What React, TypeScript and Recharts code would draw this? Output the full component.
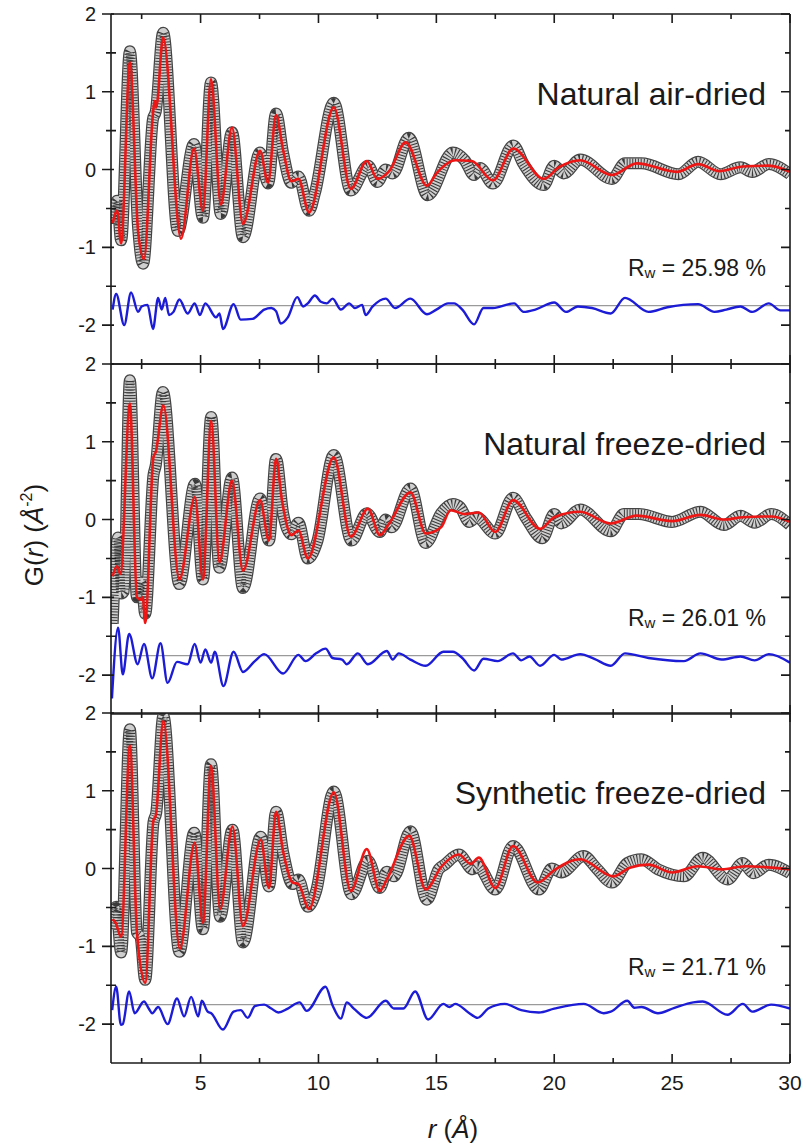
import React from "react";
import { LineChart, Line, XAxis, YAxis, ReferenceLine } from "recharts";

type Pt = [number, number];

const rDomain: [number, number] = [1.2, 30];
const gDomain: [number, number] = [-2.5, 2];
const rMajor = [5, 10, 15, 20, 25, 30];
const rMinor = [2.5, 7.5, 12.5, 17.5, 22.5, 27.5];
const gMajor = [2, 1, 0, -1, -2];
const gMinor = [1.5, 0.5, -0.5, -1.5];
const diffBase = -1.75;

const sampleNames = ["Natural air-dried", "Natural freeze-dried", "Synthetic freeze-dried"];
const rwValues = ["25.98", "26.01", "21.71"];

// natural air-dried
const airObs: Pt[] = [
  [1.27, -0.7], [1.46, -0.4], [1.63, -0.91], [2.0, 1.52], [2.35, -0.75], [2.56, -1.21],
  [2.98, 0.65], [3.1, 0.75], [3.41, 1.76], [4.04, -0.79], [4.72, 0.33], [5.1, -0.62],
  [5.44, 1.12], [5.86, -0.57], [6.33, 0.48], [6.8, -0.87], [7.52, 0.22], [7.86, -0.18],
  [8.2, 0.72], [8.5, 0.21], [8.85, -0.17], [9.15, -0.09], [9.6, -0.53], [9.85, -0.3],
  [10.65, 0.86], [11.37, -0.27], [12.1, 0.05], [12.5, -0.16], [12.85, 0.0], [13.15, -0.05],
  [13.83, 0.41], [14.63, -0.33], [15.7, 0.22], [16.2, 0.12], [16.6, -0.07], [16.85, 0.02],
  [17.4, -0.18], [18.26, 0.31], [18.7, 0.07], [19.55, -0.2], [20.0, 0.05], [20.4, -0.05],
  [21.1, 0.13], [22.45, -0.12], [23.0, 0.08], [23.7, 0.08], [25.27, -0.06], [26.1, 0.1],
  [27.05, -0.06], [27.9, 0.03], [28.4, -0.03], [29.1, 0.07], [30, -0.06],
];
const airFit: Pt[] = [
  [1.27, -0.69], [1.46, -0.53], [1.63, -0.95], [2.0, 1.38], [2.35, -0.8], [2.6, -1.15],
  [2.98, 0.72], [3.05, 0.88], [3.12, 0.8], [3.41, 1.7], [4.17, -0.89], [4.72, 0.27],
  [5.1, -0.53], [5.44, 1.16], [5.86, -0.45], [6.33, 0.54], [6.8, -0.7], [7.52, 0.24],
  [7.86, -0.17], [8.2, 0.7], [8.5, 0.25], [8.85, -0.15], [9.15, -0.12], [9.6, -0.55],
  [10.65, 0.8], [11.37, -0.25], [12.05, 0.11], [12.5, -0.12], [13.0, -0.02], [13.7, 0.35],
  [14.6, -0.21], [15.0, -0.05], [15.8, 0.12], [16.5, 0.11], [17.4, -0.14], [18.26, 0.27],
  [19.55, -0.12], [20.2, 0.03], [21.1, 0.12], [22.45, -0.07], [23.5, 0.08], [25.2, -0.03],
  [26.1, 0.07], [27.0, -0.02], [28.0, 0.04], [29.1, 0.05], [30, -0.03],
];
const airDiff: Pt[] = [
  [1.27, -1.8], [1.42, -1.6], [1.76, -2.0], [2.05, -1.58], [2.35, -1.83], [2.5, -1.76],
  [2.75, -1.74], [2.98, -2.05], [3.2, -1.65], [3.35, -1.8], [3.5, -1.65], [3.66, -1.87],
  [3.85, -1.83], [4.1, -1.67], [4.45, -1.85], [4.75, -1.72], [4.97, -1.87], [5.2, -1.72],
  [5.66, -1.9], [5.8, -1.85], [5.95, -2.05], [6.4, -1.73], [6.7, -1.93], [7.2, -1.92],
  [7.7, -1.8], [8.0, -1.78], [8.2, -1.82], [8.4, -1.98], [8.7, -1.9], [9.1, -1.64],
  [9.35, -1.76], [9.55, -1.72], [9.85, -1.62], [10.1, -1.7], [10.35, -1.72], [10.6, -1.66],
  [10.95, -1.8], [11.3, -1.72], [11.55, -1.78], [11.85, -1.74], [12.0, -1.87], [12.3, -1.76],
  [12.85, -1.66], [13.25, -1.78], [13.9, -1.66], [14.6, -1.86], [15.0, -1.8], [15.5, -1.72],
  [15.75, -1.72], [16.1, -1.8], [16.6, -1.99], [17.0, -1.78], [17.4, -1.78], [18.3, -1.72],
  [18.7, -1.83], [19.2, -1.8], [20.0, -1.71], [20.5, -1.83], [21.0, -1.76], [21.6, -1.78],
  [22.4, -1.85], [23.0, -1.65], [24.0, -1.83], [24.8, -1.77], [26.1, -1.73], [26.8, -1.83],
  [27.3, -1.8], [27.9, -1.76], [28.4, -1.83], [29.1, -1.72], [29.6, -1.81], [30, -1.81],
];

// natural freeze-dried
const freezeObs: Pt[] = [
  [1.27, -1.34], [1.5, -0.23], [1.63, -0.95], [1.75, -0.92], [2.0, 1.79], [2.3, -1.0],
  [2.5, -0.81], [2.65, -1.21], [3.0, 0.57], [3.1, 0.7], [3.4, 1.64], [4.1, -0.83],
  [4.76, 0.46], [5.1, -0.77], [5.45, 1.32], [5.8, -0.62], [6.33, 0.54], [6.8, -0.88],
  [7.52, 0.27], [7.9, -0.27], [8.2, 0.78], [8.5, 0.08], [8.85, -0.19], [9.15, -0.04],
  [9.55, -0.5], [9.95, -0.28], [10.65, 0.83], [11.4, -0.27], [12.05, 0.08], [12.6, -0.16],
  [12.85, 0.0], [13.1, -0.1], [13.9, 0.4], [14.55, -0.3], [15.2, 0.08], [15.7, 0.2],
  [16.0, 0.16], [16.4, -0.03], [16.7, 0.03], [17.5, -0.18], [18.25, 0.28], [18.8, 0.02],
  [19.5, -0.24], [20.0, 0.07], [20.3, -0.05], [21.1, 0.13], [22.4, -0.15], [22.95, 0.07],
  [23.6, 0.07], [25.0, -0.03], [26.2, 0.1], [27.2, -0.07], [27.9, 0.05], [28.5, -0.04],
  [29.2, 0.07], [30, -0.07],
];
const freezeFit: Pt[] = [
  [1.27, -0.73], [1.45, -0.6], [1.6, -0.7], [2.0, 1.49], [2.3, -1.0], [2.45, -1.03],
  [2.55, -1.0], [2.65, -1.33], [3.0, 0.8], [3.1, 0.87], [3.42, 1.47], [4.1, -0.77],
  [4.76, 0.29], [5.1, -0.77], [5.45, 1.27], [5.8, -0.55], [6.33, 0.5], [6.8, -0.66],
  [7.52, 0.25], [7.9, -0.27], [8.2, 0.78], [8.45, 0.25], [8.85, -0.2], [9.15, -0.14],
  [9.55, -0.5], [10.65, 0.8], [11.37, -0.22], [12.1, 0.14], [12.6, -0.2], [13.0, -0.05],
  [13.9, 0.35], [14.55, -0.18], [15.2, -0.1], [15.6, 0.12], [16.2, 0.07], [16.8, 0.09],
  [17.5, -0.16], [18.25, 0.25], [19.4, -0.12], [20.0, 0.03], [21.1, 0.1], [22.4, -0.05],
  [23.5, 0.05], [25.0, -0.02], [26.2, 0.06], [27.2, 0.0], [28.0, 0.03], [29.2, 0.04],
  [30, -0.03],
];
const freezeDiff: Pt[] = [
  [1.24, -2.3], [1.5, -1.39], [1.7, -1.99], [1.97, -1.47], [2.33, -1.86], [2.6, -1.6],
  [2.95, -2.04], [3.3, -1.59], [3.6, -2.1], [4.0, -1.83], [4.45, -1.86], [4.75, -1.6],
  [5.0, -1.84], [5.2, -1.67], [5.45, -1.84], [5.6, -1.7], [5.97, -2.14], [6.4, -1.7],
  [6.8, -1.96], [7.3, -1.82], [7.7, -1.73], [8.5, -1.98], [9.15, -1.74], [9.45, -1.82],
  [9.9, -1.72], [10.3, -1.66], [10.6, -1.78], [11.0, -1.8], [11.2, -1.86], [11.67, -1.72],
  [12.1, -1.86], [12.9, -1.69], [13.15, -1.8], [13.4, -1.72], [13.9, -1.8], [14.55, -1.88],
  [15.3, -1.7], [15.7, -1.7], [16.1, -1.78], [16.6, -1.94], [17.0, -1.79], [17.6, -1.82],
  [18.25, -1.72], [18.6, -1.81], [18.95, -1.76], [19.4, -1.88], [20.0, -1.74], [20.3, -1.8],
  [21.1, -1.73], [21.7, -1.79], [22.4, -1.88], [23.0, -1.72], [24.0, -1.78], [25.5, -1.82],
  [26.2, -1.72], [27.1, -1.8], [27.9, -1.76], [28.5, -1.81], [29.1, -1.73], [30, -1.84],
];

// synthetic freeze-dried
const synthObs: Pt[] = [
  [1.27, -0.78], [1.42, -0.49], [1.63, -1.08], [2.0, 1.79], [2.3, -0.82], [2.45, -0.88],
  [2.65, -1.43], [3.0, 0.59], [3.12, 0.72], [3.42, 1.96], [4.1, -1.07], [4.73, 0.46],
  [5.1, -0.78], [5.44, 1.34], [5.83, -0.62], [6.35, 0.5], [6.8, -0.95], [7.55, 0.41],
  [7.9, -0.23], [8.2, 0.73], [8.5, 0.21], [8.9, -0.2], [9.15, -0.14], [9.55, -0.49],
  [9.9, -0.29], [10.65, 0.99], [11.4, -0.33], [12.1, 0.1], [12.6, -0.25], [12.9, -0.04],
  [13.2, -0.1], [13.9, 0.48], [14.6, -0.4], [15.1, -0.01], [15.35, 0.05], [15.95, 0.18],
  [16.55, -0.01], [16.75, 0.03], [17.5, -0.27], [18.25, 0.29], [19.35, -0.27], [19.9, 0.0],
  [20.3, -0.05], [21.25, 0.16], [21.8, 0.0], [22.45, -0.18], [23.1, 0.07], [23.7, 0.12],
  [24.4, -0.01], [25.5, -0.1], [26.3, 0.14], [27.35, -0.14], [28.0, 0.07], [28.45, -0.06],
  [29.1, 0.05], [30, -0.06],
];
const synthFit: Pt[] = [
  [1.27, -0.65], [1.4, -0.7], [1.63, -0.88], [2.0, 1.58], [2.3, -0.82], [2.65, -1.47],
  [3.0, 0.62], [3.1, 0.68], [3.42, 1.9], [4.12, -1.03], [4.75, 0.33], [5.1, -0.7],
  [5.44, 1.32], [5.83, -0.52], [6.35, 0.54], [6.8, -0.74], [7.55, 0.37], [7.9, -0.25],
  [8.2, 0.73], [8.5, 0.22], [8.9, -0.18], [9.15, -0.2], [9.6, -0.52], [10.65, 0.98],
  [11.37, -0.29], [12.05, 0.25], [12.6, -0.29], [12.9, -0.14], [13.85, 0.42], [14.55, -0.27],
  [15.2, 0.02], [15.95, 0.18], [16.45, 0.06], [16.8, 0.14], [17.5, -0.25], [18.25, 0.29],
  [19.3, -0.18], [20.0, -0.02], [21.1, 0.12], [22.5, -0.1], [23.2, 0.01], [24.0, 0.05],
  [25.0, -0.05], [26.1, 0.03], [27.1, -0.01], [28.1, 0.03], [30, -0.01],
];
const synthDiff: Pt[] = [
  [1.25, -1.82], [1.42, -1.52], [1.62, -2.01], [1.7, -2.0], [1.97, -1.58], [2.2, -1.86],
  [2.6, -1.71], [2.8, -1.8], [2.95, -1.86], [3.2, -1.78], [3.6, -2.0], [4.0, -1.67],
  [4.3, -1.9], [4.6, -1.65], [4.9, -1.9], [5.05, -1.7], [5.3, -1.84], [5.45, -1.86],
  [5.95, -2.07], [6.4, -1.84], [6.7, -1.82], [7.0, -1.92], [7.3, -1.77], [7.7, -1.75],
  [8.0, -1.8], [8.3, -1.85], [8.7, -1.8], [9.2, -1.72], [9.5, -1.83], [10.3, -1.52],
  [10.6, -1.76], [10.95, -1.93], [11.2, -1.72], [11.5, -1.8], [12.05, -1.92], [12.85, -1.7],
  [13.2, -1.8], [13.6, -1.8], [14.1, -1.58], [14.65, -1.94], [15.3, -1.74], [15.55, -1.78],
  [15.8, -1.74], [16.4, -1.86], [16.75, -1.92], [17.2, -1.8], [17.9, -1.74], [18.6, -1.82],
  [19.35, -1.85], [20.0, -1.8], [21.25, -1.74], [22.1, -1.86], [22.4, -1.84], [23.1, -1.7],
  [23.4, -1.79], [23.7, -1.78], [24.4, -1.86], [25.1, -1.79], [25.9, -1.72], [26.3, -1.71],
  [27.35, -1.88], [28.0, -1.74], [28.4, -1.84], [29.2, -1.75], [30, -1.8],
];

const INK = "#1a1a1a";
const FONT = "Arial, 'Liberation Sans', Helvetica, sans-serif";
const PLOT_LEFT = 111;
const PLOT_RIGHT = 790;
const PLOT_TOP = 14;
const PLOT_H = 350;
const WIDTH = 806;
const MAJOR = 9;
const MINOR = 5;

const rows = (pts: Pt[]) => pts.map(([r, g]) => ({ r, g }));

// tick positions on the frame, same linear mapping as the chart's plot area
const rToPx = (v: number) => PLOT_LEFT + ((v - rDomain[0]) / (rDomain[1] - rDomain[0])) * (PLOT_RIGHT - PLOT_LEFT);
const gToPx = (top: number, v: number) => top + ((gDomain[1] - v) / (gDomain[1] - gDomain[0])) * PLOT_H;

function BottomLabel(props: any) {
  const { x, y, payload } = props;
  return (
    <text x={x} y={Number(y) + 27} textAnchor="middle" fontSize={21} fill={INK} fontFamily={FONT}>
      {payload.value}
    </text>
  );
}

function LeftLabel(props: any) {
  const { x, y, payload } = props;
  return (
    <text x={Number(x) - 15} y={Number(y) + 7} textAnchor="end" fontSize={20} fill={INK} fontFamily={FONT}>
      {payload.value}
    </text>
  );
}

function FrameTicks({ top }: { top: number }) {
  const bottom = top + PLOT_H;
  const d: string[] = [];
  rMajor.forEach((v) => {
    const x = rToPx(v);
    d.push(`M${x},${top}v${MAJOR}`, `M${x},${bottom}v${-MAJOR}`);
  });
  rMinor.forEach((v) => {
    const x = rToPx(v);
    d.push(`M${x},${top}v${MINOR}`, `M${x},${bottom}v${-MINOR}`);
  });
  gMajor.forEach((v) => {
    const y = gToPx(top, v);
    d.push(`M${PLOT_LEFT - 9},${y}h12`, `M${PLOT_RIGHT},${y}h${-MAJOR}`);
  });
  gMinor.forEach((v) => {
    const y = gToPx(top, v);
    d.push(`M${PLOT_LEFT - 5},${y}h10`, `M${PLOT_RIGHT},${y}h${-MINOR}`);
  });
  return <path d={d.join(" ")} stroke={INK} strokeWidth={1.6} fill="none" />;
}

type PanelProps = {
  obs: Pt[];
  fit: Pt[];
  diff: Pt[];
  bottom: number;
  showX: boolean;
};

function Panel({ obs, fit, diff, bottom, showX }: PanelProps) {
  const axisLine = { stroke: INK, strokeWidth: 1.6 };
  const obsRows = rows(obs);
  const common = { type: "number" as const, allowDataOverflow: true, interval: 0 as const };
  // axes are 1px thick boxes, so the margins are reduced by that much
  return (
    <LineChart
      width={WIDTH}
      height={PLOT_TOP + PLOT_H + bottom}
      margin={{ top: PLOT_TOP - 1, right: WIDTH - PLOT_RIGHT - 1, bottom: bottom - 1, left: PLOT_LEFT - 1 }}
    >
      <XAxis xAxisId="b" dataKey="r" {...common} domain={rDomain} ticks={rMajor} height={1}
        tickSize={0} tickMargin={0} tickLine={false} axisLine={axisLine}
        tick={showX ? (p: any) => <BottomLabel {...p} /> : false} />
      <XAxis xAxisId="t" orientation="top" dataKey="r" {...common} domain={rDomain} ticks={rMajor} height={1}
        tickSize={0} tickMargin={0} tickLine={false} axisLine={axisLine} tick={false} />
      <YAxis yAxisId="l" {...common} domain={gDomain} ticks={gMajor} width={1}
        tickSize={0} tickMargin={0} tickLine={false} axisLine={axisLine} tick={(p: any) => <LeftLabel {...p} />} />
      <YAxis yAxisId="r" orientation="right" {...common} domain={gDomain} ticks={gMajor} width={1}
        tickSize={0} tickMargin={0} tickLine={false} axisLine={axisLine} tick={false} />
      <ReferenceLine xAxisId="b" yAxisId="l" y={diffBase} stroke="#9a9a9a" strokeWidth={1.2} />
      <Line xAxisId="b" yAxisId="l" data={obsRows} dataKey="g" type="monotone" stroke="#444"
        strokeWidth={12} dot={false} activeDot={false} isAnimationActive={false} />
      <Line xAxisId="b" yAxisId="l" data={obsRows} dataKey="g" type="monotone" stroke="#cfcfcf"
        strokeWidth={9.5} dot={false} activeDot={false} isAnimationActive={false} />
      <Line xAxisId="b" yAxisId="l" data={obsRows} dataKey="g" type="monotone" stroke="#3a3a3a"
        strokeWidth={9.5} strokeDasharray="1 1.8" dot={false} activeDot={false} isAnimationActive={false} />
      <Line xAxisId="b" yAxisId="l" data={rows(fit)} dataKey="g" type="monotone" stroke="#ee1515"
        strokeWidth={2.6} dot={false} activeDot={false} isAnimationActive={false} />
      <Line xAxisId="b" yAxisId="l" data={rows(diff)} dataKey="g" type="monotone" stroke="#1c1cd6"
        strokeWidth={2.4} dot={false} activeDot={false} isAnimationActive={false} />
    </LineChart>
  );
}

const panelData = [
  { obs: airObs, fit: airFit, diff: airDiff },
  { obs: freezeObs, fit: freezeFit, diff: freezeDiff },
  { obs: synthObs, fit: synthFit, diff: synthDiff },
];
const panelTops = [0, 350, 699];

export default function App() {
  return (
    <div
      style={{
        position: "absolute",
        left: 0,
        top: 0,
        width: WIDTH,
        height: 1145,
        background: "#fff",
        fontFamily: FONT,
      }}
    >
      {panelData.map((p, i) => (
        <div key={i} style={{ position: "absolute", left: 0, top: panelTops[i] }}>
          <Panel
            obs={p.obs}
            fit={p.fit}
            diff={p.diff}
            bottom={i === 2 ? 1145 - panelTops[i] - PLOT_TOP - PLOT_H : 16}
            showX={i === 2}
          />
        </div>
      ))}
      <svg
        width={WIDTH}
        height={1145}
        style={{ position: "absolute", left: 0, top: 0, pointerEvents: "none" }}
        fontFamily={FONT}
        fill={INK}
      >
        {panelTops.map((t) => (
          <FrameTicks key={t} top={t + PLOT_TOP} />
        ))}
        {sampleNames.map((name, i) => {
          const top = panelTops[i] + PLOT_TOP;
          return (
            <g key={name}>
              <text x={766} y={top + 91} textAnchor="end" fontSize={32}>
                {name}
              </text>
              <text x={766} y={top + 262} textAnchor="end" fontSize={23}>
                R<tspan fontSize={15} dy={2}>w</tspan>
                <tspan dy={-2}>{" = " + rwValues[i] + " %"}</tspan>
              </text>
            </g>
          );
        })}
        <text transform="translate(43,535) rotate(-90)" textAnchor="middle" fontSize={26}>
          G(<tspan fontStyle="italic">r</tspan>) (<tspan fontStyle="italic">Å</tspan>
          <tspan fontSize={16} dy={-11}>-2</tspan>
          <tspan dy={11}>)</tspan>
        </text>
        <text x={453} y={1138} textAnchor="middle" fontSize={26}>
          <tspan fontStyle="italic">r</tspan> (<tspan fontStyle="italic">Å</tspan>)
        </text>
      </svg>
    </div>
  );
}
